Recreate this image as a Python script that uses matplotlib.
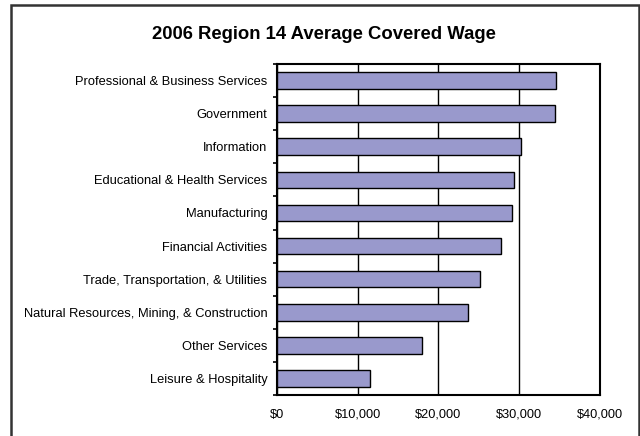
import matplotlib
matplotlib.use("Agg")
import matplotlib.pyplot as plt
from matplotlib.patches import Rectangle
from matplotlib.ticker import FuncFormatter, MultipleLocator

plt.rcParams['font.family'] = ['Liberation Sans', 'DejaVu Sans']

industries = [
    "Professional & Business Services",
    "Government",
    "Information",
    "Educational & Health Services",
    "Manufacturing",
    "Financial Activities",
    "Trade, Transportation, & Utilities",
    "Natural Resources, Mining, & Construction",
    "Other Services",
    "Leisure & Hospitality",
]
wages = [34500, 34400, 30250, 29350, 29100, 27700, 25100, 23600, 18000, 11500]

fig = plt.figure(figsize=(6.4, 4.36), dpi=100)
ax = fig.add_axes([0.4328, 0.094, 0.5047, 0.7592])

pos = list(range(len(industries)))
ax.barh(pos, wages, height=0.5, color="#9999cc", edgecolor="black", linewidth=1.0, zorder=3)

ax.set_xlim(0, 40000)
ax.set_ylim(len(industries) - 0.5, -0.5)
ax.xaxis.set_major_locator(MultipleLocator(10000))
ax.xaxis.set_major_formatter(FuncFormatter(lambda v, p: f"${v:,.0f}"))
ax.grid(axis='x', color="black", linewidth=1.0, zorder=1)

# category labels at bar centres, tick marks on the boundaries
ax.set_yticks(pos)
ax.set_yticklabels(industries, fontsize=9.3)
ax.set_yticks([p - 0.5 for p in pos] + [len(pos) - 0.5], minor=True)
ax.tick_params(axis='y', which='major', length=0, pad=7)
ax.tick_params(axis='y', which='minor', length=3, width=1.2, direction='out')
ax.tick_params(axis='x', length=0, pad=10, labelsize=9.2)

for s in ax.spines.values():
    s.set_linewidth(1.5)
    s.set_color("black")

fig.text(0.506, 0.922, "2006 Region 14 Average Covered Wage", ha='center', va='center',
         fontsize=13.3, fontweight='bold')

# outer chart-area frame
fig.patches.append(Rectangle((11 / 640, -0.02), 628 / 640, 1.02 - 5 / 436, transform=fig.transFigure,
                             fill=False, edgecolor="#333333", linewidth=1.8))

fig.savefig("out.png", dpi=100)
